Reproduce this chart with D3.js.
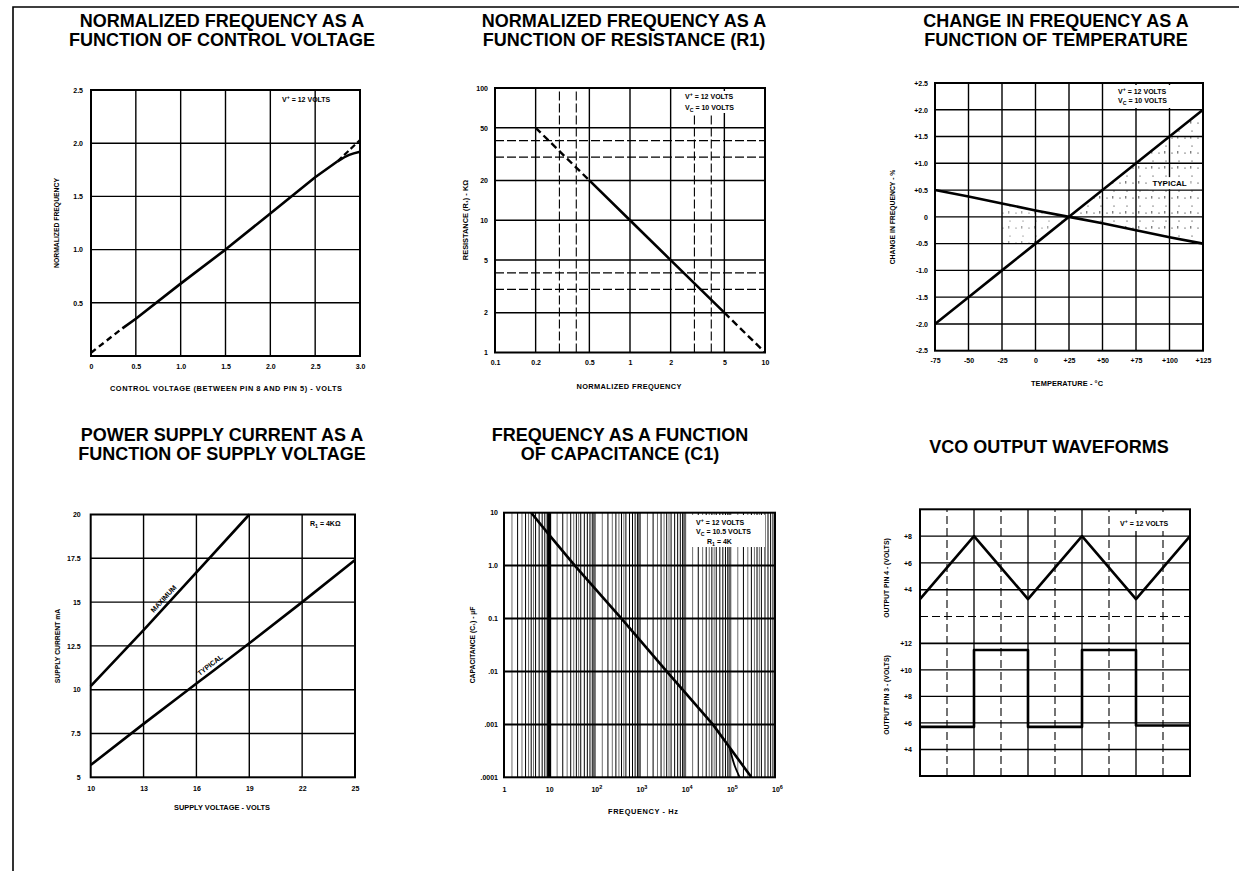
<!DOCTYPE html>
<html>
<head>
<meta charset="utf-8">
<script src="https://cdn.jsdelivr.net/npm/d3@7"></script>
<style>
  body { margin: 0; background: #fff; }
  svg { display: block; }
</style>
</head>
<body>
<svg id="sheet" width="1239" height="871"></svg>
<script>
// ---------- Normalized frequency vs control voltage ----------
const ctrlXTicks = [0, 0.5, 1, 1.5, 2, 2.5, 3];
const ctrlXLabels = ["0", "0.5", "1.0", "1.5", "2.0", "2.5", "3.0"];
const ctrlYTicks = [0.5, 1, 1.5, 2, 2.5];
const ctrlYLabels = ["0.5", "1.0", "1.5", "2.0", "2.5"];
const ctrlLowVolts = [0, 0.35];
const ctrlLowFreq = [0.03, 0.26];
const ctrlVolts = [0.35, 0.5, 1.0, 1.5, 2.0, 2.5, 2.75];
const ctrlFreq = [0.26, 0.35, 0.68, 1.0, 1.34, 1.68, 1.83];
const ctrlIdealVolts = [2.75, 3.0];
const ctrlIdealFreq = [1.83, 2.03];
const ctrlRollVolts = [2.75, 2.88, 3.0];
const ctrlRollFreq = [1.83, 1.89, 1.92];

// ---------- Normalized frequency vs resistance R1 ----------
const resXTicks = [0.1, 0.2, 0.5, 1, 2, 5, 10];
const resXLabels = ["0.1", "0.2", "0.5", "1", "2", "5", "10"];
const resYTicks = [1, 2, 5, 10, 20, 50, 100];
const resYLabels = ["1", "2", "5", "10", "20", "50", "100"];
const resGridSolid = [0.2, 0.5, 1, 2, 5];
const resGridDashed = [0.3, 0.4, 3, 4];
const resYGridSolid = [2, 5, 10, 20, 50];
const resYGridDashed = [3, 4, 30, 40];
const resFreq = [0.2, 0.5, 1, 2, 5, 10];
const resOhms = [50, 20, 10, 5, 2, 1];

// ---------- Change in frequency vs temperature ----------
const tempTicks = [-75, -50, -25, 0, 25, 50, 75, 100, 125];
const tempLabels = ["-75", "-50", "-25", "0", "+25", "+50", "+75", "+100", "+125"];
const driftTicks = [-2.5, -2, -1.5, -1, -0.5, 0, 0.5, 1, 1.5, 2, 2.5];
const driftLabels = ["-2.5", "-2.0", "-1.5", "-1.0", "-0.5", "0", "+0.5", "+1.0", "+1.5", "+2.0", "+2.5"];
const tempC = [-75, -50, -25, 0, 25, 50, 75, 100, 125];
const driftRising = [-2.0, -1.5, -1.0, -0.5, 0, 0.5, 1.0, 1.5, 2.0];
const driftFalling = [0.5, 0.38, 0.25, 0.12, 0, -0.12, -0.25, -0.38, -0.5];

// ---------- Supply current vs supply voltage ----------
const supplyXTicks = [10, 13, 16, 19, 22, 25];
const supplyYTicks = [5, 7.5, 10, 12.5, 15, 17.5, 20];
const supplyYLabels = ["5", "7.5", "10", "12.5", "15", "17.5", "20"];
const maxVolts = [10, 13, 16, 19];
const maxCurrent = [10.2, 13.4, 16.7, 20.0];
const typVolts = [10, 13, 16, 19, 22, 25];
const typCurrent = [5.7, 8.05, 10.35, 12.65, 15.0, 17.4];

// ---------- Frequency vs capacitance C1 ----------
const capXTicks = [1, 10, 100, 1e3, 1e4, 1e5, 1e6];
const capXBase = ["1", "10", "10", "10", "10", "10", "10"];
const capXExp = ["", "", "2", "3", "4", "5", "6"];
const capYTicks = [1e-4, 1e-3, 1e-2, 0.1, 1, 10];
const capYLabels = [".0001", ".001", ".01", "0.1", "1.0", "10"];
const capMinor = [1.5, 2, 2.5, 3, 3.5, 4, 4.5, 5, 6, 7, 8, 9];
const capFreq = [4, 10, 37, 400, 4000, 42000, 300000];
const capValue = [10, 3.8, 1, 0.1, 0.01, 0.001, 0.0001];
const capBendFreq = [1.0e5, 1.3e5, 1.65e5];
const capBendValue = [0.00035, 0.00016, 0.0001];

// ---------- VCO output waveforms ----------
const pin4Ticks = [8, 6, 4];
const pin4Labels = ["+8", "+6", "+4"];
const pin3Ticks = [12, 10, 8, 6, 4];
const pin3Labels = ["+12", "+10", "+8", "+6", "+4"];
const triTime = [0, 2, 4, 6, 8, 10];
const triVolts = [3.3, 8.0, 3.3, 8.0, 3.3, 8.0];
const sqTime = [0, 2, 4, 6, 8, 10];
const sqVolts = [5.7, 11.5, 5.7, 11.5, 5.8, 5.8];

// ---------- titles ----------
const titles = [
  ["NORMALIZED FREQUENCY AS A", "FUNCTION OF CONTROL VOLTAGE"],
  ["NORMALIZED FREQUENCY AS A", "FUNCTION OF RESISTANCE (R1)"],
  ["CHANGE IN FREQUENCY AS A", "FUNCTION OF TEMPERATURE"],
  ["POWER SUPPLY CURRENT AS A", "FUNCTION OF SUPPLY VOLTAGE"],
  ["FREQUENCY AS A FUNCTION", "OF CAPACITANCE (C1)"],
  ["VCO OUTPUT WAVEFORMS"]
];

// ================= drawing =================
const FONT = "'Liberation Sans', Arial, Helvetica, sans-serif";
const svg = d3.select("#sheet").attr("font-family", FONT).attr("font-weight", "bold");
const defs = svg.append("defs");

// sparse stipple texture for the typical-drift band
const stip = defs.append("pattern").attr("id", "stipple")
  .attr("width", 13).attr("height", 15).attr("patternUnits", "userSpaceOnUse");
stip.append("circle").attr("cx", 2).attr("cy", 3).attr("r", 0.6).attr("fill", "#000");
stip.append("circle").attr("cx", 9).attr("cy", 11).attr("r", 0.55).attr("fill", "#000");
stip.append("rect").attr("x", 7.5).attr("y", 1).attr("width", 0.7).attr("height", 2.6).attr("fill", "#000");

// page rules
svg.append("path").attr("d", "M13,871V7H1239")
  .attr("fill", "none").attr("stroke", "#000").attr("stroke-width", 1.6);

function drawTitle(cx, y0, lines) {
  lines.forEach((t, i) => {
    svg.append("text").attr("x", cx).attr("y", y0 + i * 19)
      .attr("text-anchor", "middle").attr("font-size", 18).attr("fill", "#000").text(t);
  });
}

function frame(g, xs, ys) {
  const [x0, x1] = xs.range(), [y0, y1] = ys.range();
  g.append("rect").attr("x", Math.min(x0, x1)).attr("y", Math.min(y0, y1))
    .attr("width", Math.abs(x1 - x0)).attr("height", Math.abs(y1 - y0))
    .attr("fill", "none").attr("stroke", "#000").attr("stroke-width", 2);
}

function vGrid(g, xs, ys, vals, w, dash, color) {
  const [y0, y1] = ys.range();
  g.selectAll(null).data(vals).enter().append("line")
    .attr("x1", d => xs(d)).attr("x2", d => xs(d)).attr("y1", y0).attr("y2", y1)
    .attr("stroke", color || "#000").attr("stroke-width", w).attr("stroke-dasharray", dash || null);
}

function hGrid(g, xs, ys, vals, w, dash, color) {
  const [x0, x1] = xs.range();
  g.selectAll(null).data(vals).enter().append("line")
    .attr("y1", d => ys(d)).attr("y2", d => ys(d)).attr("x1", x0).attr("x2", x1)
    .attr("stroke", color || "#000").attr("stroke-width", w).attr("stroke-dasharray", dash || null);
}

function styleAxis(a) {
  a.select(".domain").remove();
  a.attr("font-family", FONT).attr("font-size", 7).attr("font-weight", "bold");
  a.selectAll("text").attr("fill", "#000");
}

function bottomAxis(g, xs, ys, ticks, labels, pad) {
  const a = g.append("g").attr("transform", `translate(0,${ys.range()[0]})`)
    .call(d3.axisBottom(xs).tickValues(ticks).tickSize(0).tickPadding(pad)
      .tickFormat((d, i) => labels[i]));
  styleAxis(a);
  return a;
}

function leftAxis(g, xs, ys, ticks, labels, pad) {
  const a = g.append("g").attr("transform", `translate(${xs.range()[0]},0)`)
    .call(d3.axisLeft(ys).tickValues(ticks).tickSize(0).tickPadding(pad)
      .tickFormat((d, i) => labels[i]));
  styleAxis(a);
  return a;
}

function axisTitleX(g, x, y, t, len) {
  const el = g.append("text").attr("x", x).attr("y", y).attr("text-anchor", "middle")
    .attr("font-size", 7.4).attr("fill", "#000").text(t);
  if (len) el.attr("textLength", len).attr("lengthAdjust", "spacing");
}
function axisTitleY(g, x, y, t, size) {
  g.append("text").attr("transform", `translate(${x},${y}) rotate(-90)`)
    .attr("text-anchor", "middle").attr("dy", "0.35em")
    .attr("font-size", size || 6.8).attr("fill", "#000").text(t);
}

function trace(g, xs, ys, X, Y, w, dash, curve) {
  const line = d3.line().x(d => xs(d[0])).y(d => ys(d[1])).curve(curve || d3.curveLinear);
  return g.append("path").attr("d", line(d3.zip(X, Y)))
    .attr("fill", "none").attr("stroke", "#000").attr("stroke-width", w)
    .attr("stroke-dasharray", dash || null)
    .attr("stroke-linejoin", "round");
}

// rich text with super/subscripts: segs = [[text, "sup"|"sub"|null], ...]
function rich(g, x, y, segs, anchor, size) {
  const t = g.append("text").attr("x", x).attr("y", y).attr("font-size", size || 7)
    .attr("text-anchor", anchor || "start").attr("fill", "#000");
  let shift = 0;
  segs.forEach(([s, kind]) => {
    const target = kind === "sup" ? -3 : kind === "sub" ? 2 : 0;
    t.append("tspan").attr("dy", target - shift)
      .attr("font-size", kind ? (size || 7) * 0.75 : size || 7).text(s);
    shift = target;
  });
  return t;
}

function whiteBox(g, x, y, w, h) {
  g.append("rect").attr("x", x).attr("y", y).attr("width", w).attr("height", h).attr("fill", "#fff");
}

// ---------- panel 1 ----------
{
  const g = svg.append("g");
  const xs = d3.scaleLinear().domain([0, 3]).range([91, 360]);
  const ys = d3.scaleLinear().domain([0, 2.5]).range([356, 90]);
  vGrid(g, xs, ys, ctrlXTicks.slice(1, -1), 1.4);
  hGrid(g, xs, ys, ctrlYTicks.slice(0, -1), 1.4);
  frame(g, xs, ys);
  bottomAxis(g, xs, ys, ctrlXTicks, ctrlXLabels, 8);
  leftAxis(g, xs, ys, ctrlYTicks, ctrlYLabels, 8);
  trace(g, xs, ys, ctrlLowVolts, ctrlLowFreq, 2.4, "6,4");
  trace(g, xs, ys, ctrlVolts, ctrlFreq, 2.6);
  trace(g, xs, ys, ctrlIdealVolts, ctrlIdealFreq, 2.2, "6,3");
  trace(g, xs, ys, ctrlRollVolts, ctrlRollFreq, 2.6, null, d3.curveMonotoneX);
  rich(g, 282, 102, [["V"], ["+", "sup"], [" = 12 VOLTS"]]);
  axisTitleY(g, 57, 223, "NORMALIZED FREQUENCY");
  axisTitleX(g, 226, 391, "CONTROL VOLTAGE (BETWEEN PIN 8 AND PIN 5)  - VOLTS", 232);
  drawTitle(222, 27, titles[0]);
}

// ---------- panel 2 ----------
{
  const g = svg.append("g");
  const xs = d3.scaleLog().domain([0.1, 10]).range([495, 765]);
  const ys = d3.scaleLog().domain([1, 100]).range([352.5, 88]);
  vGrid(g, xs, ys, resGridSolid, 1.4);
  vGrid(g, xs, ys, resGridDashed, 1.1, "9,3");
  hGrid(g, xs, ys, resYGridSolid, 1.4);
  hGrid(g, xs, ys, resYGridDashed, 1.1, "9,3");
  whiteBox(g, 683, 91, 62, 22);
  frame(g, xs, ys);
  bottomAxis(g, xs, ys, resXTicks, resXLabels, 8);
  leftAxis(g, xs, ys, resYTicks, resYLabels, 7);
  const i0 = resFreq.indexOf(0.5), i1 = resFreq.indexOf(5);
  trace(g, xs, ys, resFreq.slice(0, i0 + 1), resOhms.slice(0, i0 + 1), 2.4, "7,4");
  trace(g, xs, ys, resFreq.slice(i0, i1 + 1), resOhms.slice(i0, i1 + 1), 2.6);
  trace(g, xs, ys, resFreq.slice(i1), resOhms.slice(i1), 2.4, "7,4");
  rich(g, 685, 99, [["V"], ["+", "sup"], [" = 12 VOLTS"]]);
  rich(g, 685, 110, [["V"], ["C", "sub"], [" = 10 VOLTS"]]);
  axisTitleY(g, 465, 220, "RESISTANCE (R₁) - KΩ", 7.4);
  axisTitleX(g, 629, 389, "NORMALIZED FREQUENCY", 105);
  drawTitle(624, 27, titles[1]);
}

// ---------- panel 3 ----------
{
  const g = svg.append("g");
  const xs = d3.scaleLinear().domain([-75, 125]).range([935, 1203]);
  const ys = d3.scaleLinear().domain([-2.5, 2.5]).range([350.7, 83]);
  // stippled band between the two drift limits
  const k = tempC.indexOf(25);
  const band = d3.area().x(d => xs(d[0])).y0(d => ys(d[1])).y1(d => ys(d[2]));
  g.append("path").attr("d", band(d3.zip(tempC, driftFalling, driftRising).slice(k)))
    .attr("fill", "url(#stipple)");
  const kl = tempC.indexOf(-25);
  g.append("path").attr("d", band(d3.zip(tempC, driftRising.map(v => Math.max(v, -0.5)), driftFalling).slice(kl, k + 1)))
    .attr("fill", "url(#stipple)").attr("opacity", 0.7);
  vGrid(g, xs, ys, tempTicks.slice(1, -1), 1.4);
  hGrid(g, xs, ys, driftTicks.slice(1, -1), 1.4);
  whiteBox(g, 1112, 85, 88, 23);
  whiteBox(g, xs(100) - 21, ys(0.63) - 6, 42, 12);
  frame(g, xs, ys);
  bottomAxis(g, xs, ys, tempTicks, tempLabels, 7);
  leftAxis(g, xs, ys, driftTicks, driftLabels, 7);
  trace(g, xs, ys, tempC, driftRising, 2.6);
  trace(g, xs, ys, tempC, driftFalling, 2.6);
  rich(g, 1118, 94, [["V"], ["+", "sup"], ["  = 12 VOLTS"]]);
  rich(g, 1118, 103, [["V"], ["C", "sub"], ["  = 10 VOLTS"]]);
  g.append("text").attr("x", xs(100)).attr("y", ys(0.63)).attr("dy", "0.35em")
    .attr("text-anchor", "middle").attr("font-size", 8).attr("fill", "#000").text("TYPICAL");
  axisTitleY(g, 893, 217, "CHANGE IN FREQUENCY - %");
  axisTitleX(g, 1067, 386, "TEMPERATURE - °C", 72);
  drawTitle(1056, 27, titles[2]);
}

// ---------- panel 4 ----------
{
  const g = svg.append("g");
  const xs = d3.scaleLinear().domain([10, 25]).range([90.7, 355]);
  const ys = d3.scaleLinear().domain([5, 20]).range([777.3, 514.5]);
  vGrid(g, xs, ys, supplyXTicks.slice(1, -1), 1.4);
  hGrid(g, xs, ys, supplyYTicks.slice(1, -1), 1.4);
  frame(g, xs, ys);
  bottomAxis(g, xs, ys, supplyXTicks, supplyXTicks.map(String), 9);
  leftAxis(g, xs, ys, supplyYTicks, supplyYLabels, 10);
  trace(g, xs, ys, maxVolts, maxCurrent, 2.6);
  trace(g, xs, ys, typVolts, typCurrent, 2.6, null, d3.curveMonotoneX);
  // labels laid along their curves
  function along(X, Y, at, text, off) {
    const f = d3.scaleLinear().domain(X).range(Y);
    const p1 = [xs(at - 0.5), ys(f(at - 0.5))], p2 = [xs(at + 0.5), ys(f(at + 0.5))];
    const ang = Math.atan2(p2[1] - p1[1], p2[0] - p1[0]);
    const cx = xs(at) + off * Math.sin(ang), cy = ys(f(at)) - off * Math.cos(ang);
    g.append("text").attr("transform", `translate(${cx},${cy}) rotate(${ang * 180 / Math.PI})`)
      .attr("text-anchor", "middle").attr("font-size", 7).attr("fill", "#000").text(text);
  }
  along(maxVolts, maxCurrent, 14.4, "MAXIMUM", 4);
  along(typVolts, typCurrent, 17.0, "TYPICAL", 4);
  rich(g, 310, 526, [["R"], ["1", "sub"], [" = 4KΩ"]]);
  axisTitleY(g, 58, 646, "SUPPLY CURRENT    mA");
  axisTitleX(g, 222, 810, "SUPPLY VOLTAGE - VOLTS");
  drawTitle(222, 441, titles[3]);
}

// ---------- panel 5 ----------
{
  const g = svg.append("g");
  const xs = d3.scaleLog().domain([1, 1e6]).range([504, 775]);
  const ys = d3.scaleLog().domain([1e-4, 10]).range([777.3, 512.7]);
  const minorInt = [], minorHalf = [];
  capXTicks.slice(0, -1).forEach(dec => capMinor.forEach(m => {
    (Number.isInteger(m) ? minorInt : minorHalf).push(dec * m);
  }));
  vGrid(g, xs, ys, minorHalf, 0.7, null, "#333");
  vGrid(g, xs, ys, minorInt, 1.0, null, "#000");
  vGrid(g, xs, ys, capXTicks.slice(2, -1), 3, null, "#666");
  vGrid(g, xs, ys, [10], 4);
  hGrid(g, xs, ys, capYTicks.slice(1, -1), 2);
  whiteBox(g, 692, 515, 73, 32);
  frame(g, xs, ys);
  // decade labels with raised exponents
  const xa = bottomAxis(g, xs, ys, capXTicks, capXBase, 10);
  xa.selectAll(".tick text").each(function (d, i) {
    if (!capXExp[i]) return;
    const t = d3.select(this).attr("dx", "2");
    t.append("tspan").attr("dy", -3).attr("font-size", 5.5).text(capXExp[i]);
  });
  leftAxis(g, xs, ys, capYTicks, capYLabels, 6);
  trace(g, xs, ys, capFreq, capValue, 2.6);
  trace(g, xs, ys, capBendFreq, capBendValue, 1.8, null, d3.curveMonotoneY);
  rich(g, 696, 525, [["V"], ["+", "sup"], [" = 12 VOLTS"]]);
  rich(g, 696, 534, [["V"], ["C", "sub"], [" = 10.5 VOLTS"]]);
  rich(g, 707, 544, [["R"], ["1", "sub"], [" = 4K"]]);
  axisTitleY(g, 473, 645, "CAPACITANCE (C₁) - µF");
  axisTitleX(g, 643, 814, "FREQUENCY - Hz", 70);
  drawTitle(620, 441, titles[4]);
}

// ---------- panel 6 ----------
{
  const g = svg.append("g");
  const xs = d3.scaleLinear().domain([0, 10]).range([920, 1190]);
  const yTop = d3.scaleLinear().domain([0, 10]).range([643.3, 509.3]);
  const yBot = d3.scaleLinear().domain([2, 12]).range([776, 643.3]);
  const yAll = d3.scaleLinear().domain([0, 1]).range([776, 509.3]);
  const divs = d3.range(1, 10);
  vGrid(g, xs, yAll, divs.filter(d => d % 2 === 1), 1.1, "8,4");
  vGrid(g, xs, yAll, divs.filter(d => d % 2 === 0), 1.3);
  hGrid(g, xs, yTop, pin4Ticks, 1.4);
  hGrid(g, xs, yTop, [2], 1.1, "8,4");
  hGrid(g, xs, yTop, [0], 1.8);
  hGrid(g, xs, yBot, pin3Ticks.slice(1), 1.4);
  whiteBox(g, 1114, 514, 72, 17);
  frame(g, xs, yAll);
  leftAxis(g, xs, yTop, pin4Ticks, pin4Labels, 8);
  leftAxis(g, xs, yBot, pin3Ticks, pin3Labels, 8);
  trace(g, xs, yTop, triTime, triVolts, 2.6);
  trace(g, xs, yBot, sqTime, sqVolts, 2.6, null, d3.curveStepAfter);
  rich(g, 1120, 526, [["V"], ["+", "sup"], [" = 12 VOLTS"]]);
  axisTitleY(g, 887, 578, "OUTPUT PIN 4 - (VOLTS)");
  axisTitleY(g, 887, 695, "OUTPUT PIN 3 - (VOLTS)");
  drawTitle(1049, 452.7, titles[5]);
}
</script>
</body>
</html>
